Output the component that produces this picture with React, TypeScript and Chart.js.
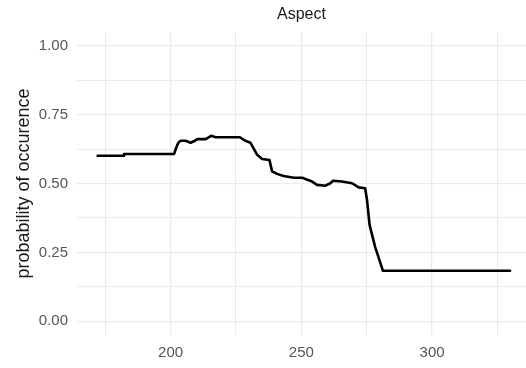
import React, { useEffect, useRef } from "react";
import { Chart, registerables } from "chart.js";

Chart.register(...registerables);

const chartTitle = "Aspect";
const yAxisTitle = "probability of occurence";

const aspectValues = [
  172.1, 182.2, 182.2, 201.3, 202.1, 202.9, 203.8, 205.7, 207.6, 209.5, 210.2,
  213.4, 215.5, 217.2, 226.5, 228.6, 230.5, 233.1, 235.0, 237.8, 238.8, 240.7,
  243.2, 247.1, 250.3, 254.1, 256.0, 259.2, 261.1, 262.1, 265.5, 269.4, 271.9,
  274.4, 275.1, 276.1, 278.2, 281.2, 329.8,
];
const probabilities = [
  0.601, 0.601, 0.607, 0.607, 0.629, 0.647, 0.655, 0.655, 0.648, 0.656, 0.661,
  0.661, 0.673, 0.668, 0.668, 0.655, 0.648, 0.604, 0.589, 0.585, 0.544, 0.535,
  0.527, 0.521, 0.521, 0.507, 0.495, 0.492, 0.501, 0.51, 0.507, 0.501, 0.486,
  0.483, 0.44, 0.349, 0.27, 0.183, 0.183,
];

const xGridValues = [175, 200, 225, 250, 275, 300, 325];
const xLabeledTicks = [200, 250, 300];
const yGridValues = [0, 0.125, 0.25, 0.375, 0.5, 0.625, 0.75, 0.875, 1];
const yLabeledTicks = [0, 0.25, 0.5, 0.75, 1];

const FONT = '"Liberation Sans", Arial, sans-serif';

const titlesPlugin = {
  id: "ggTitles",
  afterDraw(chart: any) {
    const { ctx, chartArea } = chart;
    ctx.save();
    ctx.fillStyle = "#1a1a1a";
    ctx.font = `16px ${FONT}`;
    ctx.textAlign = "center";
    ctx.textBaseline = "middle";
    ctx.fillText(chartTitle, (chartArea.left + chartArea.right) / 2, 15);
    ctx.font = `18px ${FONT}`;
    ctx.translate(29, (chartArea.top + chartArea.bottom) / 2);
    ctx.rotate(-Math.PI / 2);
    ctx.textBaseline = "alphabetic";
    ctx.fillText(yAxisTitle, 0, 0);
    ctx.restore();
  },
};

export default function App() {
  const canvasRef = useRef<HTMLCanvasElement | null>(null);

  useEffect(() => {
    document.body.style.margin = "0";
    const canvas = canvasRef.current;
    if (!canvas) return;
    const chart = new Chart(canvas, {
      type: "line",
      data: {
        datasets: [
          {
            data: aspectValues.map((x, i) => ({ x, y: probabilities[i] })),
            borderColor: "#000000",
            borderWidth: 2.6,
            pointRadius: 0,
            tension: 0,
            borderJoinStyle: "round",
            borderCapStyle: "round",
            fill: false,
          },
        ],
      },
      options: {
        animation: false,
        responsive: false,
        maintainAspectRatio: false,
        layout: { padding: { top: 32, right: 0, left: 0, bottom: 0 } },
        plugins: {
          legend: { display: false },
          tooltip: { enabled: false },
          title: { display: false },
        },
        scales: {
          x: {
            type: "linear",
            min: 164.2,
            max: 335.9,
            afterBuildTicks: (s: any) => {
              s.ticks = xGridValues.map((v) => ({ value: v }));
            },
            afterFit: (s: any) => {
              s.height = 33;
            },
            ticks: {
              autoSkip: false,
              maxRotation: 0,
              padding: 9,
              color: "#555555",
              font: { family: FONT, size: 15 },
              callback: (v: any) => (xLabeledTicks.includes(Number(v)) ? String(v) : ""),
            },
            grid: {
              color: "#ebebeb",
              lineWidth: (c: any) => (xLabeledTicks.includes(c.tick?.value) ? 1.3 : 1),
              drawTicks: false,
            },
            border: { display: false },
          },
          y: {
            type: "linear",
            min: -0.05,
            max: 1.05,
            afterBuildTicks: (s: any) => {
              s.ticks = yGridValues.map((v) => ({ value: v }));
            },
            afterFit: (s: any) => {
              s.width = 77;
            },
            ticks: {
              autoSkip: false,
              padding: 9,
              color: "#555555",
              font: { family: FONT, size: 15 },
              callback: (v: any) => (yLabeledTicks.includes(Number(v)) ? Number(v).toFixed(2) : ""),
            },
            grid: {
              color: "#ebebeb",
              lineWidth: (c: any) => (yLabeledTicks.includes(c.tick?.value) ? 1.3 : 1),
              drawTicks: false,
            },
            border: { display: false },
          },
        },
      },
      plugins: [titlesPlugin],
    } as any);
    return () => chart.destroy();
  }, []);

  return (
    <div style={{ position: "fixed", left: 0, top: 0, width: 526, height: 368, background: "#ffffff" }}>
      <canvas ref={canvasRef} width={526} height={368} style={{ display: "block" }} />
    </div>
  );
}
